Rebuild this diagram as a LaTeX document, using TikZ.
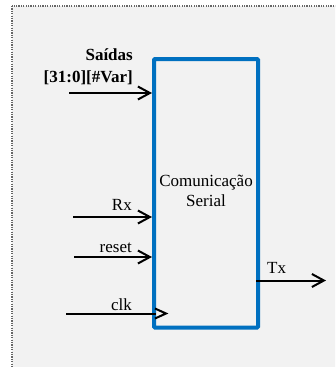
\documentclass[tikz,border=0pt]{standalone}
\usepackage{fontspec}
\setmainfont{Liberation Serif}
\usetikzlibrary{arrows.meta}
\definecolor{bg}{HTML}{F2F2F2}
\definecolor{frameblue}{HTML}{0070C0}
\definecolor{dotgray}{HTML}{666666}
\tikzset{
  sig/.style={line width=2pt, -{Straight Barb[length=12pt,width=13pt,line width=2pt]}},
  lbl/.style={anchor=base east, inner sep=0pt, font=\fontsize{17}{19}\selectfont},
  blbl/.style={lbl, font=\fontsize{17}{19}\selectfont\bfseries},
}
\begin{document}
\begin{tikzpicture}[x=1pt,y=-1pt]
\useasboundingbox (0,0) rectangle (335,367);
\clip (0,0) rectangle (335,367);
\fill[white] (0,0) rectangle (335,367);
\draw[dotgray, fill=bg, line width=1.3pt, dash pattern=on 1.2pt off 1.2pt] (12,6) rectangle (345,380);
% main block
\draw[frameblue, line width=4pt, rounded corners=1pt] (154,59) rectangle (258,327.5);
\node[inner sep=0pt, align=center, font=\fontsize{17}{20}\selectfont] (blk) at (206,191) {Comunicação\\Serial};
\coordinate (saiIn) at (152,93);
\coordinate (rxIn) at (152,217);
\coordinate (rstIn) at (152,257);
\coordinate (clkIn) at (156,313.5);
\coordinate (txOut) at (256,280.5);
\coordinate (saiS) at (69,93);
\coordinate (rxS) at (73,217);
\coordinate (rstS) at (74,257);
\coordinate (clkS) at (66,313.5);
\coordinate (txE) at (326,280.5);
\draw[sig] (saiS) -- (saiIn);
\draw[sig] (rxS) -- (rxIn);
\draw[sig] (rstS) -- (rstIn);
\draw[line width=2pt] (clkS) -- (clkIn);
\coordinate (ck1) at (155,308.5);
\coordinate (ck2) at (166,313.5);
\coordinate (ck3) at (155,318.5);
\draw[line width=2pt] (ck1) -- (ck2) -- (ck3);
\draw[sig] (txOut) -- (txE);
% labels
\node[blbl] (l1) at (133,60) {Saídas};
\node[blbl] (l2) at (133,82) {[31:0][\#Var]};
\node[lbl] (l3) at (132,210) {Rx};
\node[lbl] (l4) at (132,252.5) {reset};
\node[lbl] (l5) at (132,310.5) {clk};
\node[lbl, anchor=base west] (l6) at (267,273) {Tx};
\end{tikzpicture}
\end{document}
